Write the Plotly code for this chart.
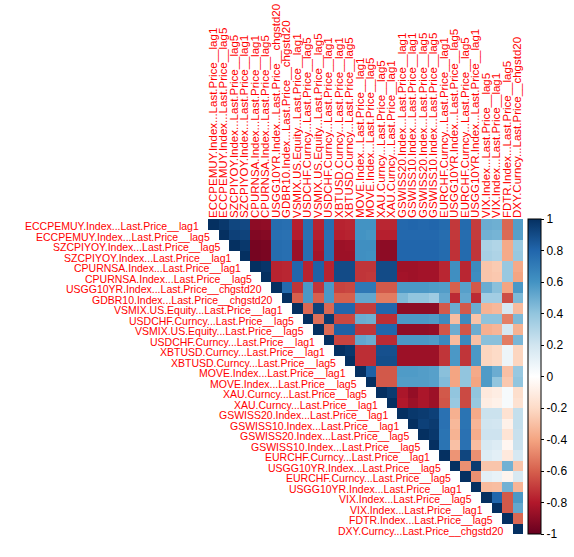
import plotly.graph_objects as go

labels = [
    "ECCPEMUY.Index...Last.Price__lag1",
    "ECCPEMUY.Index...Last.Price__lag5",
    "SZCPIYOY.Index...Last.Price__lag5",
    "SZCPIYOY.Index...Last.Price__lag1",
    "CPURNSA.Index...Last.Price__lag1",
    "CPURNSA.Index...Last.Price__lag5",
    "USGG10YR.Index...Last.Price__chgstd20",
    "GDBR10.Index...Last.Price__chgstd20",
    "VSMIX.US.Equity...Last.Price__lag1",
    "USDCHF.Curncy...Last.Price__lag5",
    "VSMIX.US.Equity...Last.Price__lag5",
    "USDCHF.Curncy...Last.Price__lag1",
    "XBTUSD.Curncy...Last.Price__lag1",
    "XBTUSD.Curncy...Last.Price__lag5",
    "MOVE.Index...Last.Price__lag1",
    "MOVE.Index...Last.Price__lag5",
    "XAU.Curncy...Last.Price__lag5",
    "XAU.Curncy...Last.Price__lag1",
    "GSWISS20.Index...Last.Price__lag1",
    "GSWISS10.Index...Last.Price__lag1",
    "GSWISS20.Index...Last.Price__lag5",
    "GSWISS10.Index...Last.Price__lag5",
    "EURCHF.Curncy...Last.Price__lag1",
    "USGG10YR.Index...Last.Price__lag5",
    "EURCHF.Curncy...Last.Price__lag5",
    "USGG10YR.Index...Last.Price__lag1",
    "VIX.Index...Last.Price__lag5",
    "VIX.Index...Last.Price__lag1",
    "FDTR.Index...Last.Price__lag5",
    "DXY.Curncy...Last.Price__chgstd20",
]

# upper-triangle correlations, row i holds columns i+1 .. 30
r01 = [0.97, 0.92, 0.91, -0.90, -0.89, 0.77, 0.76, -0.78, 0.76, -0.77, 0.76, -0.77, -0.76, 0.60, 0.60,
       -0.76, -0.76, 0.79, 0.80, 0.79, 0.80, 0.78, -0.71, 0.78, -0.70, 0.50, 0.49, -0.58, 0.56]
r02 = [0.94, 0.93, -0.93, -0.92, 0.76, 0.75, -0.79, 0.75, -0.78, 0.75, -0.78, -0.77, 0.60, 0.59,
       -0.78, -0.78, 0.79, 0.79, 0.79, 0.79, 0.77, -0.71, 0.77, -0.70, 0.48, 0.47, -0.57, 0.55]
r03 = [0.97, -0.96, -0.95, 0.77, 0.76, -0.86, 0.76, -0.82, 0.76, -0.86, -0.85, 0.62, 0.62,
       -0.90, -0.90, 0.80, 0.80, 0.80, 0.80, 0.78, -0.73, 0.78, -0.72, 0.32, 0.30, -0.38, 0.37]
r04 = [-0.96, -0.95, 0.77, 0.76, -0.86, 0.76, -0.83, 0.76, -0.86, -0.86, 0.62, 0.61,
       -0.90, -0.90, 0.80, 0.80, 0.80, 0.80, 0.78, -0.73, 0.78, -0.72, 0.33, 0.31, -0.38, 0.38]
r05 = [0.98, -0.77, -0.76, 0.80, -0.77, 0.82, -0.77, 0.90, 0.90, -0.72, -0.72,
       0.90, 0.90, -0.85, -0.85, -0.84, -0.84, -0.76, 0.62, -0.76, 0.64, -0.28, -0.26, 0.38, -0.38]
r06 = [-0.77, -0.76, 0.80, -0.77, 0.82, -0.77, 0.90, 0.90, -0.72, -0.71,
       0.90, 0.90, -0.84, -0.85, -0.84, -0.84, -0.76, 0.62, -0.76, 0.63, -0.28, -0.27, 0.38, -0.40]
r07 = [0.78, -0.72, 0.58, -0.72, 0.58, -0.68, -0.67, 0.72, 0.72,
       -0.62, -0.62, 0.58, 0.58, 0.58, 0.57, 0.56, -0.60, 0.55, -0.62, 0.50, 0.42, -0.40, 0.58]
r08 = [-0.60, 0.58, -0.60, 0.58, -0.60, -0.60, 0.52, 0.52,
       -0.52, -0.52, 0.45, 0.40, 0.40, 0.36, 0.52, -0.75, 0.52, -0.75, 0.35, 0.35, -0.65, 0.45]
r09 = [-0.58, 0.93, -0.58, 0.80, 0.80, -0.70, -0.70,
       0.80, 0.80, -0.90, -0.90, -0.90, -0.90, -0.62, 0.50, -0.62, 0.50, -0.35, -0.33, 0.18, -0.32]
r10 = [-0.56, 0.96, -0.67, -0.67, 0.50, 0.49,
       -0.74, -0.74, 0.58, 0.58, 0.58, 0.57, 0.64, -0.31, 0.64, -0.29, 0.41, 0.41, -0.51, 0.45]
r11 = [-0.57, 0.82, 0.82, -0.72, -0.72,
       0.80, 0.80, -0.89, -0.89, -0.89, -0.88, -0.63, 0.50, -0.63, 0.50, -0.36, -0.34, 0.18, -0.35]
r12 = [-0.68, -0.68, 0.52, 0.50,
       -0.75, -0.75, 0.58, 0.58, 0.58, 0.57, 0.64, -0.32, 0.64, -0.30, 0.42, 0.42, -0.52, 0.46]
r13 = [0.97, -0.74, -0.74,
       0.88, 0.88, -0.86, -0.86, -0.86, -0.86, -0.72, 0.58, -0.72, 0.58, -0.22, -0.20, 0.08, -0.22]
r14 = [-0.74, -0.74,
       0.89, 0.89, -0.86, -0.86, -0.86, -0.86, -0.72, 0.58, -0.72, 0.58, -0.22, -0.20, 0.08, -0.22]
r15 = [0.82,
       -0.62, -0.62, 0.57, 0.57, 0.56, 0.55, 0.42, -0.40, 0.40, -0.38, 0.57, 0.50, -0.30, 0.38]
r16 = [-0.62, -0.62, 0.56, 0.56, 0.56, 0.55, 0.44, -0.40, 0.40, -0.40, 0.57, 0.40, -0.27, 0.40]
r17 = [0.96, -0.82, -0.88, -0.82, -0.86, -0.62, 0.40, -0.66, 0.40, -0.12, -0.10, 0.04, -0.18]
r18 = [-0.80, -0.86, -0.82, -0.86, -0.63, 0.38, -0.66, 0.38, -0.10, -0.08, 0.04, -0.16]
r19 = [0.97, 0.96, 0.94, 0.75, -0.36, 0.74, -0.38, 0.22, 0.22, -0.16, 0.24]
r20 = [0.94, 0.96, 0.75, -0.33, 0.74, -0.34, 0.20, 0.19, -0.08, 0.24]
r21 = [0.97, 0.74, -0.35, 0.75, -0.37, 0.21, 0.21, -0.15, 0.23]
r22 = [0.74, -0.30, 0.75, -0.31, 0.17, 0.15, -0.05, 0.22]
r23 = [-0.45, 0.92, -0.46, 0.15, 0.12, -0.12, 0.18]
r24 = [-0.46, 0.96, -0.28, -0.28, 0.48, -0.28]
r25 = [-0.46, 0.12, 0.10, -0.06, 0.17]
r26 = [-0.32, -0.31, 0.48, -0.34]
r27 = [0.80, -0.62, 0.58]
r28 = [-0.62, 0.52]
r29 = [-0.58]

upper_rows = [r01, r02, r03, r04, r05, r06, r07, r08, r09, r10, r11, r12, r13, r14, r15,
              r16, r17, r18, r19, r20, r21, r22, r23, r24, r25, r26, r27, r28, r29, []]

n = len(labels)
z = []
for i in range(n):
    row = [None] * i + [1.0] + list(upper_rows[i])
    z.append(row)

palette = ["#67001F", "#B2182B", "#D6604D", "#F4A582", "#FDDBC7", "#FFFFFF",
           "#D1E5F0", "#92C5DE", "#4393C3", "#2166AC", "#053061"]
colorscale = [[k / 10, c] for k, c in enumerate(palette)]

tick_vals = [1, 0.8, 0.6, 0.4, 0.2, 0, -0.2, -0.4, -0.6, -0.8, -1]
tick_text = ["1", "0.8", "0.6", "0.4", "0.2", "0", "-0.2", "-0.4", "-0.6", "-0.8", "-1"]

FONT = "Liberation Sans, Arial, sans-serif"

fig = go.Figure(go.Heatmap(
    z=z, x=list(range(n)), y=list(range(n)),
    zmin=-1, zmax=1, colorscale=colorscale, hoverinfo="skip",
    colorbar=dict(
        x=1.015, xanchor="left", xpad=0, ypad=0, y=0.5, yanchor="middle",
        len=1, lenmode="fraction", thickness=13, outlinewidth=1, outlinecolor="black",
        tickmode="array", tickvals=tick_vals, ticktext=tick_text,
        ticks="outside", ticklen=3, tickcolor="black",
        tickfont=dict(family=FONT, size=12, color="black"),
    ),
))

annotations = []
for i, lab in enumerate(labels):
    annotations.append(dict(
        x=i - 0.5, y=i, xref="x", yref="y", text=lab, showarrow=False,
        xanchor="right", yanchor="middle", xshift=-7, yshift=-2,
        font=dict(family=FONT, size=10.5, color="red"),
    ))

fig.update_layout(
    width=574, height=557,
    margin=dict(l=208, r=51, t=219, b=23, autoexpand=False),
    paper_bgcolor="white", plot_bgcolor="white",
    xaxis=dict(range=[-0.5, n - 0.5], side="top", tickmode="array",
               tickvals=list(range(n)), ticktext=labels, tickangle=-90,
               tickfont=dict(family=FONT, size=11.5, color="red"),
               showgrid=False, zeroline=False, showline=False, ticks="",
               automargin=False, fixedrange=True),
    yaxis=dict(range=[n - 0.5, -0.5], showticklabels=False, showgrid=False,
               zeroline=False, showline=False, ticks="", automargin=False, fixedrange=True),
    annotations=annotations,
)

fig.write_html("out.html")
